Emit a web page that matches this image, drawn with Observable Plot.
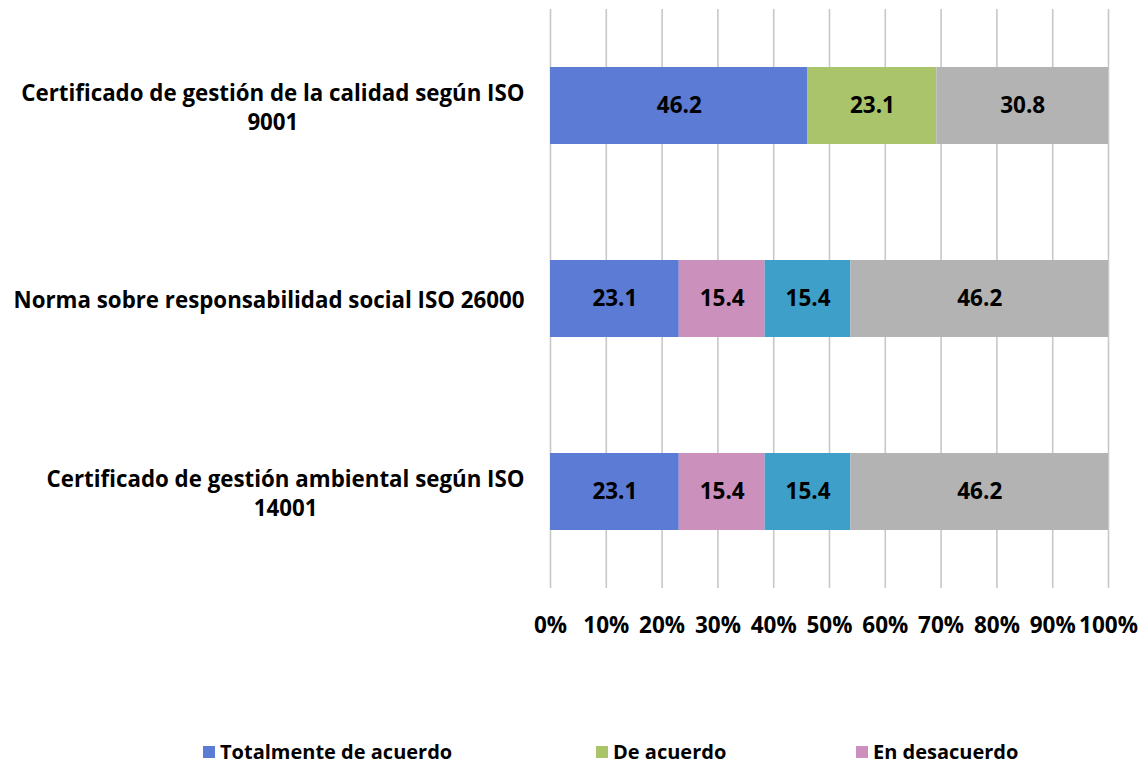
<!DOCTYPE html>
<html>
<head>
<meta charset="utf-8">
<script src="https://cdn.jsdelivr.net/npm/d3@7"></script>
<script src="https://cdn.jsdelivr.net/npm/@observablehq/plot@0.6"></script>
<style>
  html, body { margin: 0; padding: 0; background: #fff; }
  body { width: 1145px; height: 765px; position: relative; overflow: hidden; font-family: "Open Sans", Lato, sans-serif; }
  #chart { position: absolute; left: 0; top: 0; }
  #legend { position: absolute; left: 0; top: 738px; width: 1145px; height: 30px; font-weight: 700; font-size: 20px; color: #000; }
  .item { position: absolute; top: 0; display: flex; align-items: center; white-space: nowrap; }
  .sw { width: 12px; height: 12px; margin-right: 5px; margin-top: 1px; }
</style>
</head>
<body>
<div id="chart"></div>
<div id="legend"></div>
<script>
const categories = [
  "Certificado de gestión de la calidad según ISO\n9001",
  "Norma sobre responsabilidad social ISO 26000",
  "Certificado de gestión ambiental según ISO\n14001"
];
const series = ["Totalmente de acuerdo", "De acuerdo", "En desacuerdo", "Totalmente en desacuerdo", "No sabe / No contesta"];
const colors = ["#5b7bd5", "#a9c46a", "#cc90bc", "#3ea0c8", "#b3b3b3"];
const totalmenteDeAcuerdo = [46.2, 23.1, 23.1];
const deAcuerdo = [23.1, 0, 0];
const enDesacuerdo = [0, 15.4, 15.4];
const totalmenteEnDesacuerdo = [0, 15.4, 15.4];
const noSabe = [30.8, 46.2, 46.2];
const xTicks = [0, 0.1, 0.2, 0.3, 0.4, 0.5, 0.6, 0.7, 0.8, 0.9, 1];
const legendItems = ["Totalmente de acuerdo", "De acuerdo", "En desacuerdo"];

const seriesValues = [totalmenteDeAcuerdo, deAcuerdo, enDesacuerdo, totalmenteEnDesacuerdo, noSabe];
const data = [];
series.forEach((s, i) => categories.forEach((c, j) => data.push({series: s, category: c, value: seriesValues[i][j]})));
const labelled = data.filter(d => d.value > 0);

const plot = Plot.plot({
  width: 1145,
  height: 650,
  marginTop: 9,
  marginBottom: 62,
  marginLeft: 550,
  marginRight: 37,
  style: {fontFamily: "'Open Sans', Lato, sans-serif", fontWeight: 700, color: "#000", background: "#fff"},
  x: {domain: [0, 1]},
  y: {domain: categories, paddingInner: 0.6, paddingOuter: 0.3},
  color: {domain: series, range: colors},
  marks: [
    Plot.ruleX(xTicks, {stroke: "#c8c8c8", strokeWidth: 1.6}),
    Plot.barX(data, Plot.stackX({x: "value", y: "category", fill: "series", order: series, offset: "normalize"})),
    Plot.text(labelled, Plot.stackX({x: "value", y: "category", z: "series", order: series, offset: "normalize",
      text: d => d.value.toFixed(1), fill: "#000", fontSize: 22.5, fontWeight: 700})),
    Plot.axisX(xTicks, {tickSize: 0, tickPadding: 29, tickFormat: d3.format(".0%"), fontSize: 22.5, fontWeight: 700, label: null}),
    Plot.axisY({tickSize: 0, tickPadding: 26, textAnchor: "middle", fontSize: 22.3, fontWeight: 700, label: null, lineHeight: 1.3})
  ]
});
document.getElementById("chart").appendChild(plot);

// Right-align each multi-line label block while centering its lines (Excel style)
plot.querySelectorAll('g[aria-label="y-axis tick label"] text').forEach(t => {
  const w = t.getBBox().width;
  const tr = t.getAttribute("transform") || "";
  t.setAttribute("transform", tr + ` translate(${-w / 2},0)`);
});

const legendLeft = [203, 596, 856];
const legend = document.getElementById("legend");
legendItems.forEach((s, i) => {
  const it = document.createElement("div");
  it.className = "item";
  it.style.left = legendLeft[i] + "px";
  const sw = document.createElement("div");
  sw.className = "sw";
  sw.style.background = colors[series.indexOf(s)];
  const tx = document.createElement("span");
  tx.textContent = s;
  it.appendChild(sw); it.appendChild(tx);
  legend.appendChild(it);
});
</script>
</body>
</html>
